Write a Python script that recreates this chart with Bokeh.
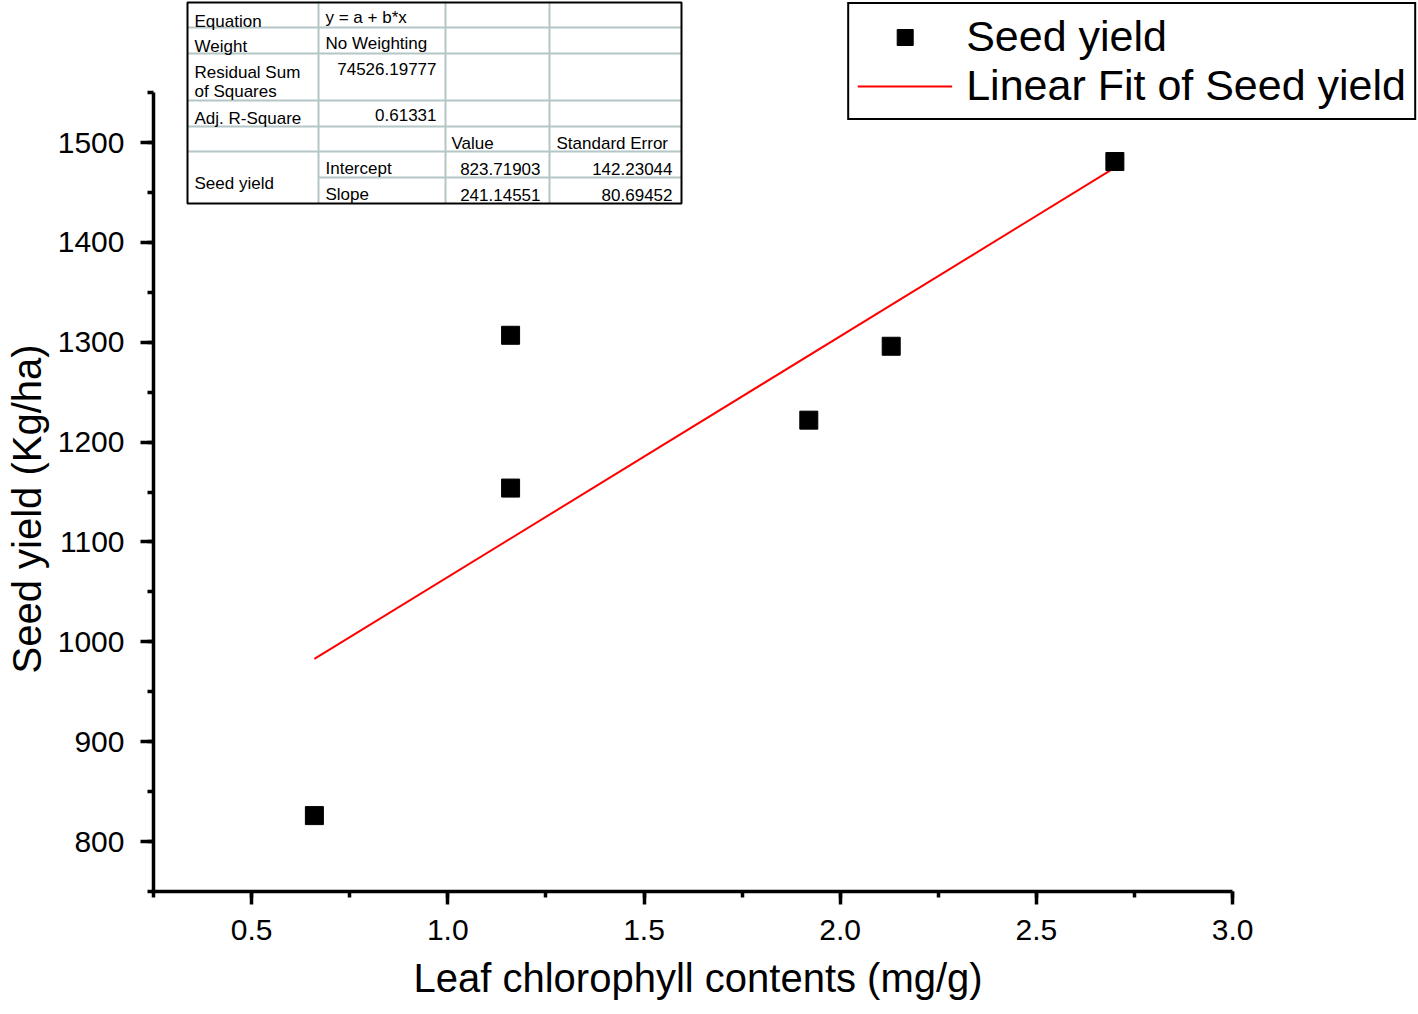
from bokeh.plotting import figure
from bokeh.models import (Range1d, SingleIntervalTicker, NumeralTickFormatter, Title,
                          Legend, LegendItem, Label, BoxAnnotation, ColumnDataSource)
from bokeh.embed import file_html
from bokeh.resources import INLINE

# ---------------- data ----------------
chlorophyll = [0.66, 1.16, 1.16, 1.92, 2.13, 2.70]      # Leaf chlorophyll contents (mg/g)
seed_yield = [826, 1307, 1154, 1222, 1296, 1481]        # Seed yield (Kg/ha)

fit_intercept = 823.71903
fit_slope = 241.14551

stats_names = ["Equation", "Weight", "Residual Sum", "of Squares", "Adj. R-Square"]
stats_values = ["y = a + b*x", "No Weighting", "74526.19777", "0.61331"]
param_header = ["Value", "Standard Error"]
series_name = "Seed yield"
param_names = ["Intercept", "Slope"]
param_values = ["823.71903", "241.14551"]
param_errors = ["142.23044", "80.69452"]

x_title = "Leaf chlorophyll contents (mg/g)"
y_title = "Seed yield (Kg/ha)"
x_ticks_interval = 0.5
y_ticks_interval = 100

# ---------------- figure ----------------
FONT = "Liberation Sans"
W, H = 1418, 1014
FL, FB = 153, 891          # frame left / bottom in picture pixels
ML, MB = FL, H - FB

x_px_per_unit = 392.4
y_px_per_unit = 0.9986
x0, y0 = 0.25, 750
x_end = x0 + (W - ML) / x_px_per_unit
y_end = y0 + FB / y_px_per_unit

p = figure(width=W, height=H, output_backend="svg", toolbar_location=None,
           x_range=Range1d(x0, x_end), y_range=Range1d(y0, y_end),
           min_border_left=ML, min_border_bottom=MB, min_border_top=0, min_border_right=0)
p.outline_line_color = None
p.xgrid.visible = False
p.ygrid.visible = False
p.background_fill_color = "white"

fit_x = [min(chlorophyll), max(chlorophyll)]
fit_y = [fit_intercept + fit_slope * v for v in fit_x]

src = ColumnDataSource(dict(x=chlorophyll, y=seed_yield))
fit_src = ColumnDataSource(dict(x=fit_x, y=fit_y))

ln = p.line("x", "y", source=fit_src, line_color="#ff0000", line_width=2)
sc = p.scatter("x", "y", source=src, marker="square", size=18,
               fill_color="black", line_color="black")

# axes
for ax, bounds, interval in ((p.xaxis[0], (0.25, 3.0), x_ticks_interval),
                             (p.yaxis[0], (750, 1550), y_ticks_interval)):
    ax.bounds = bounds
    ax.ticker = SingleIntervalTicker(interval=interval, num_minor_ticks=2)
    ax.axis_line_width = 3.5
    ax.axis_line_color = "black"
    ax.major_tick_line_width = 3.5
    ax.minor_tick_line_width = 3.5
    ax.major_tick_in = 0
    ax.major_tick_out = 13
    ax.minor_tick_in = 0
    ax.minor_tick_out = 6
    ax.major_label_text_font = FONT
    ax.major_label_text_font_size = "30px"
    ax.major_label_text_color = "black"

p.xaxis[0].formatter = NumeralTickFormatter(format="0.0")
p.xaxis[0].major_label_standoff = 15
p.yaxis[0].major_label_standoff = 16

# axis titles (as side titles so they can be positioned along the axis)
p.add_layout(Title(text=x_title, align="left", offset=260, vertical_align="top",
                   standoff=26, text_font=FONT, text_font_size="40px",
                   text_font_style="normal", text_color="black"), "below")
p.add_layout(Title(text=y_title, align="left", offset=218, vertical_align="top",
                   standoff=8, text_font=FONT, text_font_size="40px",
                   text_font_style="normal", text_color="black"), "left")

# page -> frame-relative screen coordinates
def sx(px):
    return px - FL
def sy(py):
    return FB - py

# legend
legend = Legend(items=[LegendItem(label="Seed yield", renderers=[sc]),
                       LegendItem(label="Linear Fit of Seed yield", renderers=[ln])],
                location="top_right", margin=2, padding=8, spacing=0,
                glyph_width=95, glyph_height=40, label_height=40, label_standoff=14,
                label_text_font=FONT, label_text_font_size="43px",
                label_text_color="black",
                border_line_color="black", border_line_width=2, border_line_alpha=1,
                background_fill_color="white", background_fill_alpha=1)
p.add_layout(legend)

# ---------------- fit-statistics table ----------------
T_L, T_R, T_T, T_B = 187, 681, 1, 203
COLS = [318, 445, 549]
ROWS_FULL = [27, 53, 100, 126, 151]
ROW_PART = 177
GRID = "#b4c6c6"

def box(l, r, t, b, fill=None, line=None, lw=0):
    return BoxAnnotation(left=sx(l), right=sx(r), top=sy(t), bottom=sy(b),
                         left_units="screen", right_units="screen",
                         top_units="screen", bottom_units="screen",
                         fill_color=fill if fill else "white",
                         fill_alpha=1 if fill else 0,
                         line_color=line if line else None, line_width=lw,
                         line_alpha=1 if line else 0)

p.add_layout(box(T_L, T_R, T_T, T_B, fill="white"))
for c in COLS:
    p.add_layout(box(c - 1, c + 1, T_T, T_B, fill=GRID))
for r in ROWS_FULL:
    p.add_layout(box(T_L, T_R, r - 1, r + 1, fill=GRID))
p.add_layout(box(COLS[0], T_R, ROW_PART - 1, ROW_PART + 1, fill=GRID))
p.add_layout(box(T_L, T_R, T_T + 1, T_B, line="black", lw=2))

def tlabel(text, px, py, align="left"):
    p.add_layout(Label(x=sx(px), y=sy(py), x_units="screen", y_units="screen",
                       text=text, text_align=align, text_baseline="alphabetic",
                       text_font=FONT, text_font_size="17px", text_color="black"))

name_baselines = [20.7, 45.7, 71.7, 91.0, 118.3]
for t, b in zip(stats_names, name_baselines):
    tlabel(t, 194, b)
tlabel(stats_values[0], 325, 17.0)
tlabel(stats_values[1], 325, 43.3)
tlabel(stats_values[2], 436, 68.3, "right")
tlabel(stats_values[3], 436, 114.3, "right")
tlabel(param_header[0], 451, 142.7)
tlabel(param_header[1], 556, 142.7)
tlabel(series_name, 194, 182.7)
for i, b in enumerate([168.3, 194.3]):
    tlabel(param_names[i], 325, b)
    tlabel(param_values[i], 540, b, "right")
    tlabel(param_errors[i], 672, b, "right")

open("out.html", "w").write(file_html(p, INLINE))
